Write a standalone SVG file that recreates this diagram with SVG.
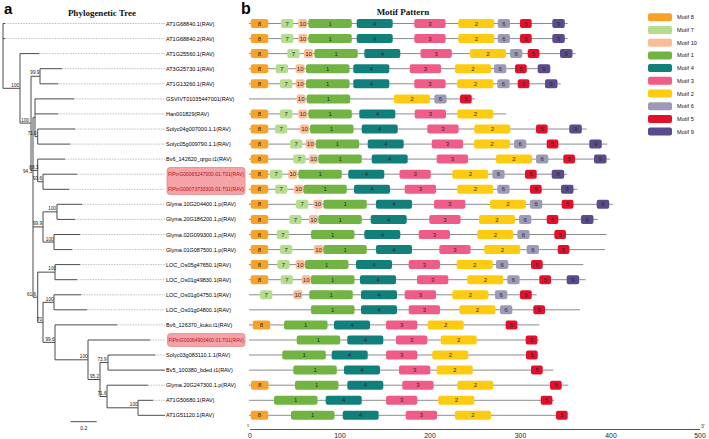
<svg xmlns="http://www.w3.org/2000/svg" width="709" height="439" viewBox="0 0 709 439">
<style>
text{font-family:"Liberation Sans",Arial,sans-serif}
.tl{font-size:5.5px;fill:#000}
.hl{font-size:5.5px;fill:#b5101e}
.bs{font-size:4.6px;fill:#111;text-anchor:end}
.mt{font-size:6px;fill:#2a2a2a;text-anchor:middle}
.lg{font-size:5.6px;fill:#111}
.ttl{font-family:"Liberation Serif","Times New Roman",serif;font-weight:bold;font-size:9px;fill:#111;text-anchor:middle}
.pl{font-weight:bold;font-size:16px;fill:#000}
.ax{font-size:6.8px;fill:#222;text-anchor:middle}
.br{fill:none;stroke:#4a4a4a;stroke-width:1}
.dl{fill:none;stroke:#b3b3b3;stroke-width:0.8;stroke-dasharray:1.6 1}
.bb{stroke:#8c8c8c;stroke-width:1}
.c8{fill:#F7A229}.c7{fill:#B4DD8E}.c10{fill:#F9BD96}.c1{fill:#71B443}.c4{fill:#12807A}
.c3{fill:#EE5C87}.c2{fill:#FDCB0F}.c6{fill:#9C9AB7}.c5{fill:#E2102B}.c9{fill:#5B4B8A}
</style>
<defs>
<g id="m8"><rect x="0" y="-4.5" width="17.5" height="9" rx="2" class="c8"/><text class="mt" x="8.75" y="2.1">8</text></g>
<g id="m7"><rect x="0" y="-4.5" width="12.3" height="9" rx="2" class="c7"/><text class="mt" x="6.15" y="2.1">7</text></g>
<g id="m10"><rect x="0" y="-4.5" width="9" height="9" rx="2" class="c10"/><text class="mt" x="4.5" y="2.1">10</text></g>
<g id="m1"><rect x="0" y="-4.5" width="43.5" height="9" rx="2" class="c1"/><text class="mt" x="21.75" y="2.1">1</text></g>
<g id="m4"><rect x="0" y="-4.5" width="36" height="9" rx="2" class="c4"/><text class="mt" x="18" y="2.1">4</text></g>
<g id="m3"><rect x="0" y="-4.5" width="31.3" height="9" rx="2" class="c3"/><text class="mt" x="15.65" y="2.1">3</text></g>
<g id="m2"><rect x="0" y="-4.5" width="36" height="9" rx="2" class="c2"/><text class="mt" x="18" y="2.1">2</text></g>
<g id="m6"><rect x="0" y="-4.5" width="12.3" height="9" rx="2" class="c6"/><text class="mt" x="6.15" y="2.1">6</text></g>
<g id="m5"><rect x="0" y="-4.5" width="11.7" height="9" rx="2" class="c5"/><text class="mt" x="5.85" y="2.1">5</text></g>
<g id="m9"><rect x="0" y="-4.5" width="12.5" height="9" rx="2" class="c9"/><text class="mt" x="6.25" y="2.1">9</text></g>
</defs>
<rect width="709" height="439" fill="#fff"/>
<text class="pl" x="4" y="13.5" style="font-size:15px">a</text>
<text class="pl" x="241" y="14">b</text>
<text class="ttl" x="102" y="15.5">Phylogenetic Tree</text>
<text class="ttl" x="403" y="15">Motif Pattern</text>

<g id="connectors">
<path class="dl" d="M5,23.5H165M5,38.6H165M39,53.6H165M62,68.7H165M58,83.8H165M74,98.9H165M58,113.9H165M75,129H165M70,144.1H165M65,159.1H165M77,174.2H165M69,189.3H165M82,204.3H165M75,219.4H165M80,234.5H165M72,249.6H165M80,264.6H165M77,279.7H165M81,294.8H165M87,309.8H165M117,324.9H165M150,340H165M155,355H165M148,385.2H165M153,400.3H165"/>
<path class="br" d="M3,23.5V88.3M3,23.5H5M3,38.6H5M3,88.3H20M20,53.6V123.1M20,53.6H39M20,123.1H31M31,76.25V170.4M31,76.25H40M40,68.7V83.8M40,68.7H62M40,83.8H58M31,170.4H37.7M33,117.7V297.2M33,117.7H35M35,98.9V136.55M35,98.9H74M35,113.9H58M35,136.55H37.7M37.7,129V144.1M37.7,129H75M37.7,144.1H70M37.7,159.1V181.75M37.7,159.1H65M37.7,181.75H43M43,174.2V189.3M43,174.2H77M43,189.3H69M33,226.95H43M43,211.85V242.05M43,211.85H57M57,204.3V219.4M57,204.3H82M57,219.4H75M43,242.05H54M54,234.5V249.6M54,234.5H80M54,249.6H72M33,297.2H37.7M37.7,272.15V322.3M37.7,272.15H55M55,264.6V279.7M55,264.6H80M55,279.7H77M37.7,322.3H43M43,302.3V342.35M43,302.3H54M54,294.8V309.8M54,294.8H81M54,309.8H87M43,342.35H55M55,324.9V359.8M55,324.9H117M55,359.8H88M88,340V379.5M88,340H150M88,379.5H100M100,362.55V396.5M100,362.55H108M108,355V370.1M108,355H155M108,370.1H165M100,396.5H107M107,385.2V407.8M107,385.2H148M107,407.8H138M138,400.3V415.3M138,400.3H153M138,415.3H165"/>
<path class="br" d="M70.7,421.7H96.7"/>
</g>
<g id="bootstrap">
<text class="bs" x="19" y="86.6">100</text>
<text class="bs" x="29" y="121.6">100</text>
<text class="bs" x="39.3" y="73.6">99.9</text>
<text class="bs" x="36.7" y="134.6">71.0</text>
<text class="bs" x="38.3" y="168.6">88.3</text>
<text class="bs" x="32" y="172.6">94.3</text>
<text class="bs" x="42" y="179.6">93.6</text>
<text class="bs" x="42" y="224.6">99.9</text>
<text class="bs" x="56" y="209.6">100</text>
<text class="bs" x="53.5" y="240.6">100</text>
<text class="bs" x="56" y="269.6">100</text>
<text class="bs" x="36" y="295.6">61.6</text>
<text class="bs" x="42" y="320.6">70</text>
<text class="bs" x="53.5" y="300.6">100</text>
<text class="bs" x="54.5" y="340.6">99.6</text>
<text class="bs" x="87.5" y="357.6">100</text>
<text class="bs" x="99" y="377.6">95.2</text>
<text class="bs" x="106.5" y="360.6">73.9</text>
<text class="bs" x="106.5" y="394.6">71.6</text>
<text class="bs" x="137.5" y="405.6">100</text>
<text class="bs" x="83.7" y="430" style="text-anchor:middle;font-size:5px">0.2</text>
</g>

<g id="highlights">
<rect x="167" y="167.5" width="78" height="27" rx="3" fill="#F5A3A6" stroke="#D98A8E" stroke-width="0.8"/>
<rect x="167.5" y="333.5" width="77.5" height="13" rx="3" fill="#F5A3A6" stroke="#D98A8E" stroke-width="0.8"/>
</g>
<g id="leaves">
<text id="leaf-0" class="tl" x="166" y="25.5">AT1G68840.1(RAV)</text>
<text id="leaf-1" class="tl" x="166" y="40.6">AT1G68840.2(RAV)</text>
<text id="leaf-2" class="tl" x="166" y="55.6">AT1G25560.1(RAV)</text>
<text id="leaf-3" class="tl" x="166" y="70.7">AT3G25730.1(RAV)</text>
<text id="leaf-4" class="tl" x="166" y="85.8">AT1G13260.1(RAV)</text>
<text id="leaf-5" class="tl" x="166" y="100.9">GSVIVT01035447001(RAV)</text>
<text id="leaf-6" class="tl" x="166" y="115.9">Han001829(RAV)</text>
<text id="leaf-7" class="tl" x="166" y="131">Solyc04g007000.1.1(RAV)</text>
<text id="leaf-8" class="tl" x="166" y="146.1">Solyc05g009790.1.1(RAV)</text>
<text id="leaf-9" class="tl" x="166" y="161.1">Bv6_142620_qrgo.t1(RAV)</text>
<text id="leaf-10" class="hl" x="168" y="176.2" textLength="76" lengthAdjust="spacingAndGlyphs">FlPinG00065247000.01.T01(RAV)</text>
<text id="leaf-11" class="hl" x="168" y="191.3" textLength="76" lengthAdjust="spacingAndGlyphs">FlPinG00073733300.01.T01(RAV)</text>
<text id="leaf-12" class="tl" x="166" y="206.3">Glyma.10G204400.1.p(RAV)</text>
<text id="leaf-13" class="tl" x="166" y="221.4">Glyma.20G186200.1.p(RAV)</text>
<text id="leaf-14" class="tl" x="166" y="236.5">Glyma.02G099300.1.p(RAV)</text>
<text id="leaf-15" class="tl" x="166" y="251.6">Glyma.01G087500.1.p(RAV)</text>
<text id="leaf-16" class="tl" x="166" y="266.6">LOC_Os05g47650.1(RAV)</text>
<text id="leaf-17" class="tl" x="166" y="281.7">LOC_Os01g49830.1(RAV)</text>
<text id="leaf-18" class="tl" x="166" y="296.8">LOC_Os01g04750.1(RAV)</text>
<text id="leaf-19" class="tl" x="166" y="311.8">LOC_Os01g04800.1(RAV)</text>
<text id="leaf-20" class="tl" x="166" y="326.9">Bv6_126370_kuku.t1(RAV)</text>
<text id="leaf-21" class="hl" x="168.5" y="342" textLength="75.5" lengthAdjust="spacingAndGlyphs">FlPinG00064903400.01.T01(RAV)</text>
<text id="leaf-22" class="tl" x="166" y="357">Solyc03g083110.1.1(RAV)</text>
<text id="leaf-23" class="tl" x="166" y="372.1">Bv5_100380_bded.t1(RAV)</text>
<text id="leaf-24" class="tl" x="166" y="387.2">Glyma.20G247300.1.p(RAV)</text>
<text id="leaf-25" class="tl" x="166" y="402.3">AT1G50680.1(RAV)</text>
<text id="leaf-26" class="tl" x="166" y="417.3">AT1G51120.1(RAV)</text>
</g>

<g id="motif-rows">
<g id="row-0"><line class="bb" x1="249" y1="23.5" x2="567.7" y2="23.5"/>
<use href="#m8" x="250.7" y="23.5"/><use href="#m7" x="281" y="23.5"/><use href="#m10" x="298.3" y="23.5"/><use href="#m1" x="308.3" y="23.5"/><use href="#m4" x="356.7" y="23.5"/><use href="#m3" x="414.3" y="23.5"/><use href="#m2" x="458.3" y="23.5"/><use href="#m6" x="497.7" y="23.5"/><use href="#m5" x="520" y="23.5"/><use href="#m9" x="552.3" y="23.5"/></g>
<g id="row-1"><line class="bb" x1="249" y1="38.6" x2="567.7" y2="38.6"/>
<use href="#m8" x="250.7" y="38.6"/><use href="#m7" x="281" y="38.6"/><use href="#m10" x="298.3" y="38.6"/><use href="#m1" x="308.3" y="38.6"/><use href="#m4" x="356.7" y="38.6"/><use href="#m3" x="414.3" y="38.6"/><use href="#m2" x="458.3" y="38.6"/><use href="#m6" x="497.7" y="38.6"/><use href="#m5" x="520" y="38.6"/><use href="#m9" x="552.3" y="38.6"/></g>
<g id="row-2"><line class="bb" x1="249" y1="53.6" x2="575.7" y2="53.6"/>
<use href="#m8" x="250.7" y="53.6"/><use href="#m7" x="287.3" y="53.6"/><use href="#m10" x="304" y="53.6"/><use href="#m1" x="314.3" y="53.6"/><use href="#m4" x="364.3" y="53.6"/><use href="#m3" x="420.5" y="53.6"/><use href="#m2" x="470" y="53.6"/><use href="#m6" x="510" y="53.6"/><use href="#m5" x="527.7" y="53.6"/><use href="#m9" x="560" y="53.6"/></g>
<g id="row-3"><line class="bb" x1="249" y1="68.7" x2="550.5" y2="68.7"/>
<use href="#m8" x="250.7" y="68.7"/><use href="#m7" x="275.7" y="68.7"/><use href="#m10" x="295.7" y="68.7"/><use href="#m1" x="306" y="68.7"/><use href="#m4" x="353.3" y="68.7"/><use href="#m3" x="409.7" y="68.7"/><use href="#m2" x="455" y="68.7"/><use href="#m6" x="494" y="68.7"/><use href="#m5" x="515" y="68.7"/><use href="#m9" x="537.7" y="68.7"/></g>
<g id="row-4"><line class="bb" x1="249" y1="83.8" x2="560.7" y2="83.8"/>
<use href="#m8" x="250.7" y="83.8"/><use href="#m7" x="280" y="83.8"/><use href="#m10" x="295.7" y="83.8"/><use href="#m1" x="306" y="83.8"/><use href="#m4" x="353.3" y="83.8"/><use href="#m3" x="414.3" y="83.8"/><use href="#m2" x="457.3" y="83.8"/><use href="#m6" x="497.3" y="83.8"/><use href="#m5" x="517.7" y="83.8"/><use href="#m9" x="545" y="83.8"/></g>
<g id="row-5"><line class="bb" x1="249" y1="98.9" x2="475" y2="98.9"/>
<use href="#m10" x="296.7" y="98.9"/><use href="#m1" x="306.7" y="98.9"/><use href="#m2" x="394" y="98.9"/><use href="#m6" x="434.3" y="98.9"/><use href="#m5" x="460" y="98.9"/></g>
<g id="row-6"><line class="bb" x1="249" y1="113.9" x2="506" y2="113.9"/>
<use href="#m8" x="250.7" y="113.9"/><use href="#m7" x="280" y="113.9"/><use href="#m10" x="298.3" y="113.9"/><use href="#m1" x="308.3" y="113.9"/><use href="#m4" x="359.3" y="113.9"/><use href="#m3" x="414.7" y="113.9"/><use href="#m2" x="457.3" y="113.9"/></g>
<g id="row-7"><line class="bb" x1="249" y1="129" x2="586.7" y2="129"/>
<use href="#m8" x="250.7" y="129"/><use href="#m7" x="275" y="129"/><use href="#m10" x="300" y="129"/><use href="#m1" x="310" y="129"/><use href="#m4" x="361.7" y="129"/><use href="#m3" x="427.3" y="129"/><use href="#m2" x="474.3" y="129"/><use href="#m5" x="536" y="129"/><use href="#m9" x="569.3" y="129"/></g>
<g id="row-8"><line class="bb" x1="249" y1="144.1" x2="607.3" y2="144.1"/>
<use href="#m8" x="250.7" y="144.1"/><use href="#m7" x="290" y="144.1"/><use href="#m10" x="305.7" y="144.1"/><use href="#m1" x="315.7" y="144.1"/><use href="#m4" x="367.7" y="144.1"/><use href="#m3" x="431.7" y="144.1"/><use href="#m2" x="474" y="144.1"/><use href="#m6" x="514" y="144.1"/><use href="#m5" x="546.7" y="144.1"/><use href="#m9" x="589.3" y="144.1"/></g>
<g id="row-9"><line class="bb" x1="249" y1="159.1" x2="610" y2="159.1"/>
<use href="#m8" x="250.7" y="159.1"/><use href="#m7" x="293.3" y="159.1"/><use href="#m10" x="309" y="159.1"/><use href="#m1" x="318.3" y="159.1"/><use href="#m4" x="371.7" y="159.1"/><use href="#m3" x="436.7" y="159.1"/><use href="#m2" x="496" y="159.1"/><use href="#m6" x="536" y="159.1"/><use href="#m5" x="563.3" y="159.1"/><use href="#m9" x="594" y="159.1"/></g>
<g id="row-10"><line class="bb" x1="249" y1="174.2" x2="567.3" y2="174.2"/>
<use href="#m8" x="250.7" y="174.2"/><use href="#m7" x="270" y="174.2"/><use href="#m10" x="288.3" y="174.2"/><use href="#m1" x="298.3" y="174.2"/><use href="#m4" x="348.3" y="174.2"/><use href="#m3" x="399.5" y="174.2"/><use href="#m2" x="452.3" y="174.2"/><use href="#m6" x="492.3" y="174.2"/><use href="#m5" x="525" y="174.2"/><use href="#m9" x="551.7" y="174.2"/></g>
<g id="row-11"><line class="bb" x1="249" y1="189.3" x2="577.3" y2="189.3"/>
<use href="#m8" x="250.7" y="189.3"/><use href="#m7" x="275" y="189.3"/><use href="#m10" x="294" y="189.3"/><use href="#m1" x="303.3" y="189.3"/><use href="#m4" x="354" y="189.3"/><use href="#m3" x="404.7" y="189.3"/><use href="#m2" x="457.3" y="189.3"/><use href="#m6" x="497.3" y="189.3"/><use href="#m5" x="530" y="189.3"/><use href="#m9" x="561" y="189.3"/></g>
<g id="row-12"><line class="bb" x1="249" y1="204.3" x2="612.7" y2="204.3"/>
<use href="#m8" x="250.7" y="204.3"/><use href="#m7" x="296" y="204.3"/><use href="#m10" x="313.3" y="204.3"/><use href="#m1" x="323.3" y="204.3"/><use href="#m4" x="376" y="204.3"/><use href="#m3" x="434" y="204.3"/><use href="#m2" x="490" y="204.3"/><use href="#m6" x="530" y="204.3"/><use href="#m5" x="561.7" y="204.3"/><use href="#m9" x="596.7" y="204.3"/></g>
<g id="row-13"><line class="bb" x1="249" y1="219.4" x2="597.7" y2="219.4"/>
<use href="#m8" x="250.7" y="219.4"/><use href="#m7" x="289.3" y="219.4"/><use href="#m10" x="309" y="219.4"/><use href="#m1" x="318.3" y="219.4"/><use href="#m4" x="370.7" y="219.4"/><use href="#m3" x="429.3" y="219.4"/><use href="#m2" x="479" y="219.4"/><use href="#m6" x="519" y="219.4"/><use href="#m5" x="546.7" y="219.4"/><use href="#m9" x="581" y="219.4"/></g>
<g id="row-14"><line class="bb" x1="249" y1="234.5" x2="606.7" y2="234.5"/>
<use href="#m8" x="250.7" y="234.5"/><use href="#m7" x="276.7" y="234.5"/><use href="#m1" x="311" y="234.5"/><use href="#m4" x="364.3" y="234.5"/><use href="#m3" x="418.7" y="234.5"/><use href="#m2" x="477.3" y="234.5"/><use href="#m6" x="517.3" y="234.5"/><use href="#m5" x="554.3" y="234.5"/></g>
<g id="row-15"><line class="bb" x1="249" y1="249.6" x2="605" y2="249.6"/>
<use href="#m8" x="250.7" y="249.6"/><use href="#m7" x="280" y="249.6"/><use href="#m10" x="314" y="249.6"/><use href="#m1" x="323.3" y="249.6"/><use href="#m4" x="376" y="249.6"/><use href="#m3" x="439.3" y="249.6"/><use href="#m2" x="484.3" y="249.6"/><use href="#m6" x="526.7" y="249.6"/><use href="#m5" x="557.7" y="249.6"/></g>
<g id="row-16"><line class="bb" x1="249" y1="264.6" x2="583.3" y2="264.6"/>
<use href="#m8" x="250.7" y="264.6"/><use href="#m7" x="277.3" y="264.6"/><use href="#m10" x="295.7" y="264.6"/><use href="#m1" x="305" y="264.6"/><use href="#m4" x="356" y="264.6"/><use href="#m3" x="408.7" y="264.6"/><use href="#m2" x="456.7" y="264.6"/><use href="#m6" x="496" y="264.6"/><use href="#m5" x="531" y="264.6"/></g>
<g id="row-17"><line class="bb" x1="249" y1="279.7" x2="585.7" y2="279.7"/>
<use href="#m8" x="250.7" y="279.7"/><use href="#m7" x="280.7" y="279.7"/><use href="#m10" x="301.7" y="279.7"/><use href="#m1" x="311" y="279.7"/><use href="#m4" x="360" y="279.7"/><use href="#m3" x="417" y="279.7"/><use href="#m2" x="467.3" y="279.7"/><use href="#m6" x="507.3" y="279.7"/><use href="#m5" x="539.3" y="279.7"/><use href="#m9" x="566.7" y="279.7"/></g>
<g id="row-18"><line class="bb" x1="249" y1="294.8" x2="536.7" y2="294.8"/>
<use href="#m7" x="260" y="294.8"/><use href="#m10" x="293.3" y="294.8"/><use href="#m1" x="309.3" y="294.8"/><use href="#m4" x="361" y="294.8"/><use href="#m3" x="404.7" y="294.8"/><use href="#m2" x="452.3" y="294.8"/><use href="#m6" x="495" y="294.8"/><use href="#m5" x="520" y="294.8"/></g>
<g id="row-19"><line class="bb" x1="249" y1="309.8" x2="580" y2="309.8"/>
<use href="#m1" x="311" y="309.8"/><use href="#m4" x="361" y="309.8"/><use href="#m3" x="408.7" y="309.8"/><use href="#m2" x="459.3" y="309.8"/><use href="#m6" x="500" y="309.8"/><use href="#m5" x="533.3" y="309.8"/></g>
<g id="row-20"><line class="bb" x1="249" y1="324.9" x2="539.3" y2="324.9"/>
<use href="#m8" x="252.7" y="324.9"/><use href="#m1" x="284" y="324.9"/><use href="#m4" x="334" y="324.9"/><use href="#m3" x="386" y="324.9"/><use href="#m2" x="427.7" y="324.9"/><use href="#m5" x="505.7" y="324.9"/></g>
<g id="row-21"><line class="bb" x1="249" y1="340" x2="539" y2="340"/>
<use href="#m1" x="296.7" y="340"/><use href="#m4" x="347.3" y="340"/><use href="#m3" x="396" y="340"/><use href="#m2" x="440.7" y="340"/><use href="#m5" x="525.7" y="340"/></g>
<g id="row-22"><line class="bb" x1="249" y1="355" x2="538.3" y2="355"/>
<use href="#m1" x="282.3" y="355"/><use href="#m4" x="331.7" y="355"/><use href="#m3" x="386" y="355"/><use href="#m2" x="432.3" y="355"/><use href="#m5" x="526" y="355"/></g>
<g id="row-23"><line class="bb" x1="249" y1="370.1" x2="553.3" y2="370.1"/>
<use href="#m1" x="293.3" y="370.1"/><use href="#m4" x="344" y="370.1"/><use href="#m3" x="399" y="370.1"/><use href="#m2" x="436.7" y="370.1"/><use href="#m5" x="531" y="370.1"/></g>
<g id="row-24"><line class="bb" x1="249" y1="385.2" x2="568.3" y2="385.2"/>
<use href="#m8" x="251" y="385.2"/><use href="#m1" x="295" y="385.2"/><use href="#m4" x="347.3" y="385.2"/><use href="#m3" x="402.3" y="385.2"/><use href="#m2" x="457.3" y="385.2"/><use href="#m5" x="550" y="385.2"/></g>
<g id="row-25"><line class="bb" x1="249" y1="400.3" x2="554.3" y2="400.3"/>
<use href="#m1" x="274" y="400.3"/><use href="#m4" x="325.7" y="400.3"/><use href="#m3" x="386" y="400.3"/><use href="#m2" x="438.3" y="400.3"/><use href="#m5" x="540.7" y="400.3"/></g>
<g id="row-26"><line class="bb" x1="249" y1="415.3" x2="567" y2="415.3"/>
<use href="#m8" x="250.7" y="415.3"/><use href="#m1" x="291" y="415.3"/><use href="#m4" x="342.7" y="415.3"/><use href="#m3" x="405.7" y="415.3"/><use href="#m2" x="455" y="415.3"/><use href="#m5" x="556" y="415.3"/></g>
</g>

<g id="axis">
<line x1="250" y1="429.5" x2="700" y2="429.5" stroke="#555" stroke-width="1"/>
<text class="ax" x="250" y="437.5">0</text>
<text class="ax" x="340" y="437.5">100</text>
<text class="ax" x="430" y="437.5">200</text>
<text class="ax" x="520.5" y="437.5">300</text>
<text class="ax" x="611" y="437.5">400</text>
<text class="ax" x="700" y="437.5">500</text>
<text x="247" y="427" style="font-size:4px;fill:#333">5'</text>
<text x="701" y="427.5" style="font-size:5px;fill:#333">3'</text>
</g>

<g id="legend">
<g id="legend-8"><rect x="648" y="13.3" width="24" height="8" rx="2" class="c8"/><text class="lg" x="677" y="19.3">Motif 8</text></g>
<g id="legend-7"><rect x="648" y="26" width="24" height="8" rx="2" class="c7"/><text class="lg" x="677" y="32">Motif 7</text></g>
<g id="legend-10"><rect x="648" y="38.7" width="24" height="8" rx="2" class="c10"/><text class="lg" x="677" y="44.7">Motif 10</text></g>
<g id="legend-1"><rect x="648" y="51.4" width="24" height="8" rx="2" class="c1"/><text class="lg" x="677" y="57.4">Motif 1</text></g>
<g id="legend-4"><rect x="648" y="64.1" width="24" height="8" rx="2" class="c4"/><text class="lg" x="677" y="70.1">Motif 4</text></g>
<g id="legend-3"><rect x="648" y="76.8" width="24" height="8" rx="2" class="c3"/><text class="lg" x="677" y="82.8">Motif 3</text></g>
<g id="legend-2"><rect x="648" y="89.5" width="24" height="8" rx="2" class="c2"/><text class="lg" x="677" y="95.5">Motif 2</text></g>
<g id="legend-6"><rect x="648" y="102.2" width="24" height="8" rx="2" class="c6"/><text class="lg" x="677" y="108.2">Motif 6</text></g>
<g id="legend-5"><rect x="648" y="114.9" width="24" height="8" rx="2" class="c5"/><text class="lg" x="677" y="120.9">Motif 5</text></g>
<g id="legend-9"><rect x="648" y="127.6" width="24" height="8" rx="2" class="c9"/><text class="lg" x="677" y="133.6">Motif 9</text></g>
</g>
</svg>
